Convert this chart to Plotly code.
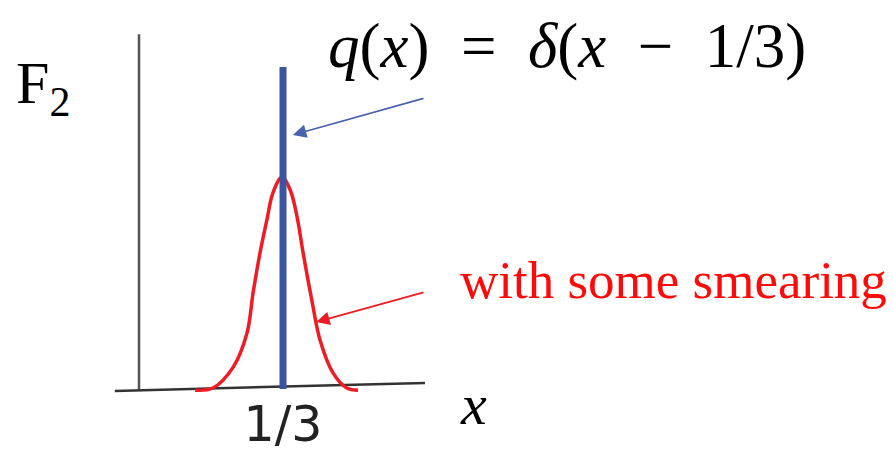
import plotly.graph_objects as go

# Delta-function quark distribution at x = 1/3, and the same peak smeared out
x_peak = [1 / 3]
peak_height = [1.0]

smear_x = [0.130, 0.171, 0.218, 0.250, 0.264, 0.280, 0.296, 0.310, 0.331,
           0.350, 0.366, 0.380, 0.400, 0.419, 0.449, 0.481, 0.507]
smear_f2 = [-0.004, 0.003, 0.068, 0.174, 0.298, 0.422, 0.525, 0.609, 0.658,
            0.618, 0.534, 0.422, 0.276, 0.152, 0.050, 0.003, -0.004]

# Hand-drawn axes (the x axis is slightly tilted)
yaxis_x = [0.0, 0.0]
yaxis_f2 = [-0.002, 1.102]
xaxis_x = [-0.056, 0.662]
xaxis_f2 = [-0.006, 0.0186]

tick_vals = [1 / 3]
tick_text = ["1/3"]

W, H = 893, 454
X_RANGE = [-0.3218, 1.7454]
Y_RANGE = [-0.2019, 1.2081]

BLUE = "#3a55a3"
RED = "#ee1c25"
GRAY = "#555555"
SERIF = "Liberation Serif"

fig = go.Figure()

fig.add_trace(go.Scatter(x=yaxis_x, y=yaxis_f2, mode="lines",
                         line=dict(color=GRAY, width=2.5), hoverinfo="skip"))
fig.add_trace(go.Scatter(x=xaxis_x, y=xaxis_f2, mode="lines",
                         line=dict(color="#333333", width=2.5), hoverinfo="skip"))

fig.add_trace(go.Scatter(x=smear_x, y=smear_f2, mode="lines",
                         line=dict(color=RED, width=3.5, shape="spline", smoothing=1.0),
                         hoverinfo="skip"))

fig.add_trace(go.Scatter(x=[x_peak[0], x_peak[0]], y=[0, peak_height[0]], mode="lines",
                         line=dict(color=BLUE, width=7), hoverinfo="skip"))

# Arrows pointing at the two curves
fig.add_annotation(x=0.356, y=0.789, ax=0.662, ay=0.904, xref="x", yref="y",
                   axref="x", ayref="y", showarrow=True, arrowhead=2,
                   arrowsize=1.5, arrowwidth=1.8, arrowcolor="#4a63b0", text="")
fig.add_annotation(x=0.410, y=0.208, ax=0.662, ay=0.301, xref="x", yref="y",
                   axref="x", ayref="y", showarrow=True, arrowhead=2,
                   arrowsize=1.5, arrowwidth=1.8, arrowcolor=RED, text="")

def place(text, px, py, size, color="black", anchor="left", valign="middle"):
    fig.add_annotation(x=px / W, y=1 - py / H, xref="paper", yref="paper",
                       text=text, showarrow=False, xanchor=anchor, yanchor=valign,
                       font=dict(family=SERIF, size=size, color=color))

EN = "\u2002"
place("F<sub>2</sub>", 14, 88, 60)
place(f"<i>q</i>(<i>x</i>){EN}={EN}<i>δ</i>(<i>x</i>{EN}−{EN}1/3)", 326, 46, 63)
place("with some smearing", 458, 280, 53, color="#ff0a0a")
place("<i>x</i>", 458, 404, 58)

fig.update_layout(
    width=W, height=H,
    margin=dict(l=0, r=0, t=0, b=0),
    paper_bgcolor="white", plot_bgcolor="white",
    showlegend=False,
    xaxis=dict(range=X_RANGE, showgrid=False, zeroline=False, showline=False,
               tickvals=tick_vals, ticktext=tick_text, ticks="", automargin=False,
               anchor="free", position=1 - 391 / H, ticklabelstandoff=0,
               tickfont=dict(family="DejaVu Sans", size=49, color="#222222")),
    yaxis=dict(range=Y_RANGE, showgrid=False, zeroline=False, showline=False,
               showticklabels=False, ticks="", automargin=False),
)

fig.write_html("out.html")
